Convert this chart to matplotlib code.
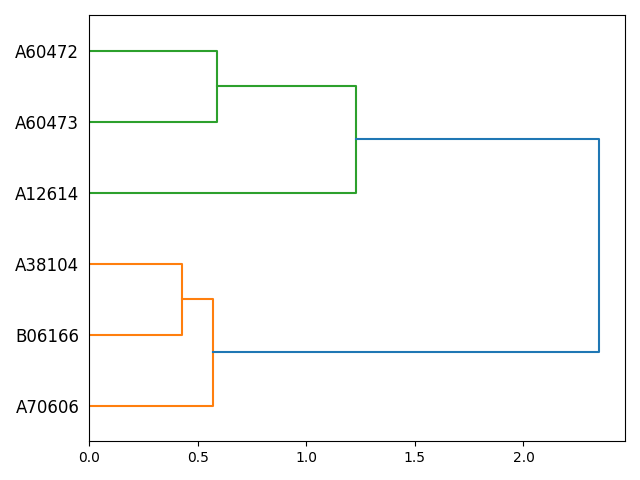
import matplotlib
matplotlib.use('Agg')
import matplotlib.pyplot as plt

# leaves, listed bottom to top
leafLabels = ['A70606', 'B06166', 'A38104', 'A12614', 'A60473', 'A60472']
# linkage: (child a, child b, merge distance); new nodes get ids 6, 7, ...
mergeA = [2, 6, 5, 8, 7]
mergeB = [1, 0, 4, 3, 9]
mergeDist = [0.43, 0.57, 0.59, 1.23, 2.35]
linkColors = ['C1', 'C1', 'C2', 'C2', 'C0']

fig, ax = plt.subplots(figsize=(6.4, 4.8), dpi=100)

# position of each node: leaves sit at 5, 15, 25, ... like scipy does it
nodeY = {i: 5 + 10 * i for i in range(len(leafLabels))}
nodeX = {i: 0.0 for i in range(len(leafLabels))}

for k in range(len(mergeDist)):
    a, b, d = mergeA[k], mergeB[k], mergeDist[k]
    ya, yb = nodeY[a], nodeY[b]
    xa, xb = nodeX[a], nodeX[b]
    ax.plot([xa, d, d, xb], [ya, ya, yb, yb], color=linkColors[k], linewidth=1.5)
    newId = len(leafLabels) + k
    nodeY[newId] = (ya + yb) / 2.0
    nodeX[newId] = d

ax.set_xlim(0, max(mergeDist) * 1.05)
ax.set_ylim(0, 10 * len(leafLabels))
ax.set_yticks([5 + 10 * i for i in range(len(leafLabels))])
ax.set_yticklabels(leafLabels, fontsize=12)
# hide the tick marks, they would cover the links
for line in ax.get_yticklines():
    line.set_visible(False)

fig.tight_layout()
fig.savefig('out.png')
plt.close()
